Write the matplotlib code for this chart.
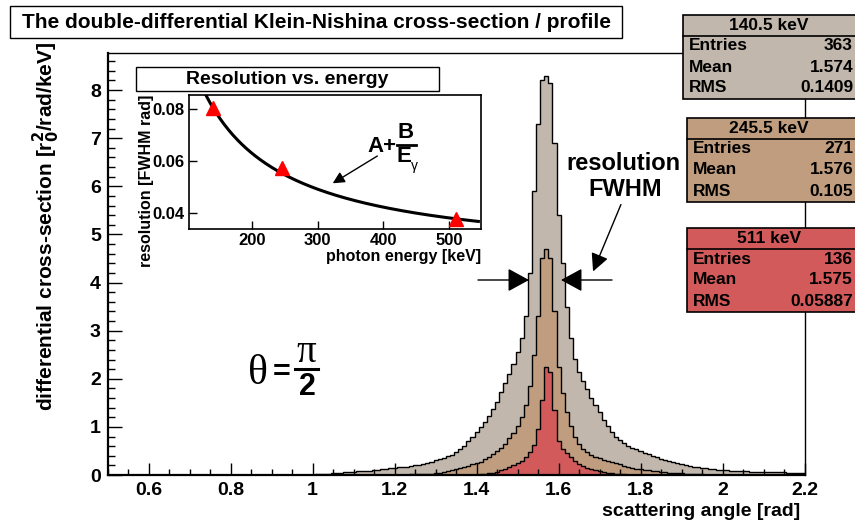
import numpy as np
import matplotlib.pyplot as plt
from matplotlib.patches import Rectangle, FancyArrowPatch
from matplotlib.lines import Line2D
from matplotlib.ticker import MultipleLocator

plt.rcParams['font.family'] = ['Liberation Sans', 'DejaVu Sans']
plt.rcParams['font.weight'] = 'bold'
plt.rcParams['mathtext.default'] = 'bf'

# histogram contents, bins of 0.01 rad, first bin centre given by *_start
bin_width = 0.01
gray_start = 1.00
gray_vals = [0.01, 0.02, 0.02, 0.03, 0.03, 0.04, 0.04, 0.05, 0.06, 0.06,
             0.07, 0.08, 0.08, 0.09, 0.09, 0.10, 0.11, 0.12, 0.13, 0.14,
             0.15, 0.16, 0.16, 0.17, 0.18, 0.20, 0.21, 0.23, 0.25, 0.28,
             0.31, 0.33, 0.36, 0.39, 0.42, 0.47, 0.53, 0.61, 0.70, 0.80,
             0.90, 1.00, 1.10, 1.23, 1.37, 1.52, 1.73, 1.92, 2.10, 2.30,
             2.55, 2.85, 3.30, 4.20, 5.90, 7.30, 8.20, 8.30, 8.15, 6.90,
             5.40, 4.40, 3.50, 2.85, 2.42, 2.15, 1.95, 1.78, 1.60, 1.45,
             1.30, 1.15, 1.02, 0.90, 0.80, 0.72, 0.66, 0.61, 0.56, 0.53,
             0.50, 0.46, 0.43, 0.40, 0.37, 0.34, 0.31, 0.29, 0.26, 0.24,
             0.22, 0.20, 0.18, 0.17, 0.16, 0.15, 0.14, 0.13, 0.12, 0.11,
             0.10, 0.10, 0.09, 0.09, 0.08, 0.08, 0.08, 0.07, 0.07, 0.07,
             0.07, 0.06, 0.06, 0.06, 0.06, 0.06, 0.05, 0.05, 0.05, 0.05,
             0.05]
tan_start = 1.20
tan_vals = [0.01, 0.01, 0.01, 0.01, 0.02, 0.02, 0.02, 0.02, 0.03, 0.03,
            0.04, 0.05, 0.06, 0.08, 0.10, 0.12, 0.14, 0.17, 0.19, 0.22,
            0.25, 0.28, 0.33, 0.38, 0.43, 0.49, 0.56, 0.64, 0.76, 0.88,
            1.02, 1.20, 1.45, 1.85, 2.50, 3.30, 4.50, 4.70, 4.50, 3.40,
            2.25, 1.70, 1.30, 1.02, 0.80, 0.65, 0.55, 0.47, 0.41, 0.38,
            0.35, 0.32, 0.30, 0.28, 0.25, 0.22, 0.19, 0.17, 0.15, 0.13,
            0.12, 0.11, 0.10, 0.09, 0.08, 0.07, 0.06, 0.05, 0.05, 0.04,
            0.04, 0.03, 0.03, 0.02, 0.02, 0.02, 0.01, 0.01, 0.01, 0.01,
            0.01]
red_start = 1.40
red_vals = [0.01, 0.02, 0.03, 0.04, 0.05, 0.07, 0.10, 0.13, 0.16, 0.20,
            0.25, 0.30, 0.38, 0.48, 0.62, 0.95, 1.55, 2.25, 2.15, 1.35,
            0.70, 0.55, 0.45, 0.38, 0.29, 0.23, 0.19, 0.15, 0.12, 0.10,
            0.08, 0.06, 0.05, 0.04, 0.03, 0.02, 0.02, 0.01, 0.01]

energies = [140.5, 245.5, 511.0]
stat_entries = [363, 271, 136]
stat_means = ["1.574", "1.576", "1.575"]
stat_rms = ["0.1409", "0.105", "0.05887"]

# resolution vs energy and fit A + B/E
res_fwhm = [0.0805, 0.0573, 0.0377]
fit_A = 0.0215
fit_B = 8.29

colors = ['#c1b7ac', '#bf9d7e', '#d35a5a']

W, H = 855, 525


def fx(px):
    return px / W


def fy(py):
    return 1 - py / H


fig = plt.figure(figsize=(W / 100, H / 100), dpi=100)
ax = fig.add_axes([fx(107.7), fy(475), fx(804.5) - fx(107.7), fy(53) - fy(475)])

for start, vals, col in zip([gray_start, tan_start, red_start],
                            [gray_vals, tan_vals, red_vals], colors):
    edges = start - bin_width / 2 + bin_width * np.arange(len(vals) + 1)
    ax.stairs(vals, edges, fill=True, facecolor=col, edgecolor='none')
    ax.stairs(vals, edges, baseline=0, color='black', linewidth=1.0)

ax.set_xlim(0.5, 2.2)
ax.set_ylim(0, 8.77)
ax.xaxis.set_minor_locator(MultipleLocator(0.05))
ax.yaxis.set_major_locator(MultipleLocator(1))
ax.yaxis.set_minor_locator(MultipleLocator(0.2))
ax.set_xticks([0.6, 0.8, 1.0, 1.2, 1.4, 1.6, 1.8, 2.0, 2.2])
ax.set_xticklabels(['0.6', '0.8', '1', '1.2', '1.4', '1.6', '1.8', '2', '2.2'])
ax.tick_params(axis='x', which='major', direction='in', length=9, width=1, labelsize=14, pad=5)
ax.tick_params(axis='x', which='minor', direction='in', length=4.5, width=1)
ax.tick_params(axis='y', which='major', direction='in', length=10, width=1, labelsize=14, pad=5)
ax.tick_params(axis='y', which='minor', direction='in', length=5, width=1)
for s in ['left', 'bottom']:
    ax.spines[s].set_linewidth(1.6)
for s in ['top', 'right']:
    ax.spines[s].set_linewidth(1.0)

fig.text(fx(800), fy(512), 'scattering angle [rad]', ha='right', va='center', fontsize=14)
fig.text(fx(46), fy(42), r'differential cross-section [r$_{0}^{2}$/rad/keV]',
         rotation=90, ha='center', va='top', fontsize=15)

# title box
fig.add_artist(Rectangle((fx(10), fy(38)), fx(622) - fx(10), fy(6) - fy(38),
                         transform=fig.transFigure, facecolor='white', edgecolor='black', linewidth=1))
fig.text(fx(316), fy(22), 'The double-differential Klein-Nishina cross-section / profile',
         ha='center', va='center', fontsize=15)

# theta = pi/2
fig.text(fx(258), fy(374), 'θ', ha='center', va='center', fontsize=30,
         family='Liberation Serif', fontweight='normal')
fig.text(fx(282), fy(373), '=', ha='center', va='center', fontsize=22)
fig.text(fx(306), fy(353), 'π', ha='center', va='center', fontsize=28,
         family='Liberation Serif', fontweight='normal')
fig.add_artist(Line2D([fx(295), fx(318)], [fy(369), fy(369)], color='black', linewidth=2.2))
fig.text(fx(307), fy(387), '2', ha='center', va='center', fontsize=22)

# resolution FWHM annotation
fig.text(fx(623), fy(163), 'resolution', ha='center', va='center', fontsize=17)
fig.text(fx(625), fy(189), 'FWHM', ha='center', va='center', fontsize=17)
fig.add_artist(FancyArrowPatch(
    (fx(622), fy(202)), (fx(592), fy(274)), transform=fig.transFigure,
    arrowstyle='-|>,head_length=0.9,head_width=0.45', mutation_scale=12,
    color='black', linewidth=1))
fig.add_artist(FancyArrowPatch(
    (fx(478), fy(280)), (fx(529), fy(280)), transform=fig.transFigure,
    arrowstyle='-|>,head_length=1.1,head_width=0.6', mutation_scale=12,
    color='black', linewidth=1, shrinkA=0, shrinkB=0))
fig.add_artist(FancyArrowPatch(
    (fx(612), fy(280)), (fx(561), fy(280)), transform=fig.transFigure,
    arrowstyle='-|>,head_length=1.1,head_width=0.6', mutation_scale=12,
    color='black', linewidth=1, shrinkA=0, shrinkB=0))

# stats boxes
box_tops = [15, 118, 228]
box_lefts = [683, 687, 687]
for i in range(3):
    top, left = box_tops[i], box_lefts[i]
    fig.add_artist(Rectangle((fx(left), fy(top + 84)), fx(880) - fx(left), fy(top) - fy(top + 84),
                             transform=fig.transFigure, facecolor=colors[i], edgecolor='black',
                             linewidth=1.2))
    fig.add_artist(Line2D([fx(left), fx(880)], [fy(top + 21), fy(top + 21)], color='black', linewidth=1.2))
    lab = f'{energies[i]:g} keV'
    fig.text(fx(769), fy(top + 10.5), lab, ha='center', va='center', fontsize=12.5)
    rows = [('Entries', str(stat_entries[i])), ('Mean', stat_means[i]), ('RMS', stat_rms[i])]
    for j, (name, val) in enumerate(rows):
        yy = top + 31 + j * 21
        fig.text(fx(left + 6), fy(yy), name, ha='left', va='center', fontsize=12.5)
        fig.text(fx(853), fy(yy), val, ha='right', va='center', fontsize=12.5)

# inset: resolution vs energy
ai = fig.add_axes([fx(189), fy(229), fx(481) - fx(189), fy(95) - fy(229)])
e_fit = np.linspace(100, 545, 200)
ai.plot(e_fit, fit_A + fit_B / e_fit, color='black', linewidth=2.2, zorder=2)
ai.plot(energies, res_fwhm, linestyle='none', marker='^', markersize=10, color='red', zorder=3)
ai.set_xlim(104, 549)
ai.set_ylim(0.0338, 0.0854)
ai.set_xticks([200, 300, 400, 500])
ai.set_yticks([0.04, 0.06, 0.08])
ai.set_yticklabels(['0.04', '0.06', '0.08'])
ai.tick_params(direction='in', length=6, width=1, labelsize=12, pad=3)
for s in ai.spines.values():
    s.set_linewidth(1.2)
fig.text(fx(481), fy(257), 'photon energy [keV]', ha='right', va='center', fontsize=11.5)
fig.text(fx(146), fy(95), 'resolution [FWHM rad]', rotation=90, ha='center', va='top', fontsize=11.5)
fig.add_artist(Rectangle((fx(136), fy(91)), fx(439) - fx(136), fy(67) - fy(91),
                         transform=fig.transFigure, facecolor='white', edgecolor='black',
                         linewidth=1, zorder=3))
fig.text(fx(287), fy(79), 'Resolution vs. energy', ha='center', va='center', fontsize=14, zorder=4)
ai.annotate('', xy=(323, 0.0514), xytext=(391, 0.0619),
            arrowprops=dict(arrowstyle='-|>,head_length=0.7,head_width=0.35', mutation_scale=10,
                            color='black', linewidth=1, shrinkA=0, shrinkB=0))
fig.text(fx(382), fy(147), 'A+', ha='center', va='center', fontsize=16)
fig.text(fx(406), fy(132), 'B', ha='center', va='center', fontsize=16)
fig.add_artist(Line2D([fx(397), fx(416)], [fy(145), fy(145)], color='black', linewidth=2))
fig.text(fx(404), fy(157), 'E', ha='center', va='center', fontsize=16)
fig.text(fx(414), fy(166), 'γ', ha='center', va='center', fontsize=10, fontweight='normal')

fig.savefig('out.png', dpi=100)
